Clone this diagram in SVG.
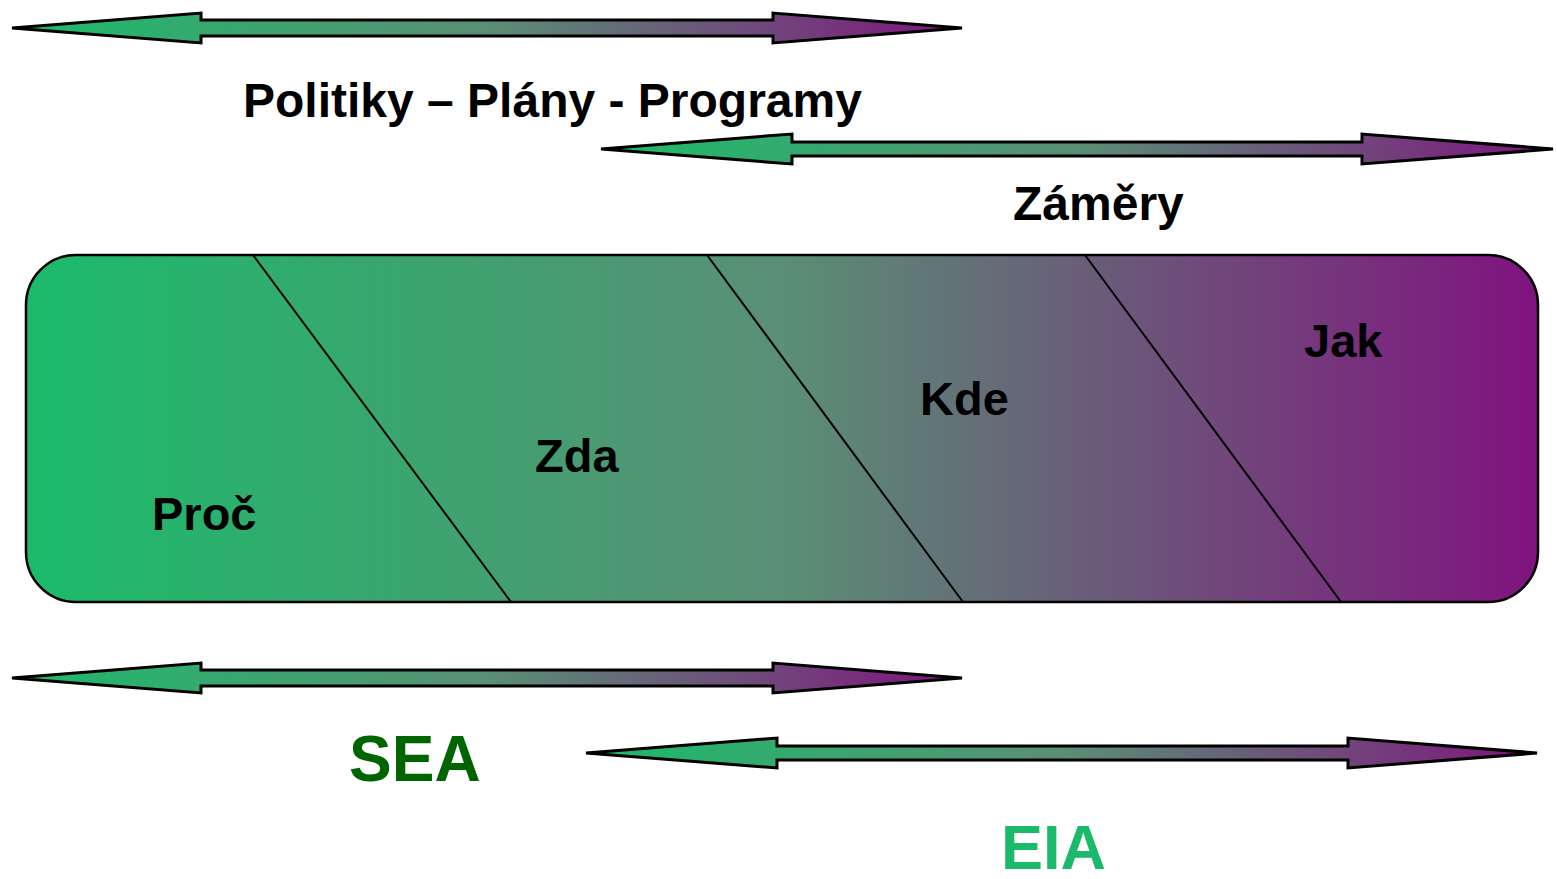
<svg xmlns="http://www.w3.org/2000/svg" width="1557" height="879" viewBox="0 0 1557 879">
<defs>
<linearGradient id="g" x1="0" y1="0" x2="1" y2="0">
<stop offset="0" stop-color="#1BBB6A"/>
<stop offset="0.5" stop-color="#5A8F75"/>
<stop offset="1" stop-color="#80137F"/>
</linearGradient>
<style>
.arr{fill:url(#g);stroke:#000;stroke-width:3;stroke-linejoin:miter}
.lbl{font-family:"Liberation Sans",Arial,sans-serif;font-weight:bold;fill:#000}
.div{stroke:#000;stroke-width:2;fill:none}
</style>
</defs>
<g id="arrow-ppp">
<path class="arr" d="M12,28 L201,13 L201,20 L773,20 L773,13 L962,28 L773,43 L773,36 L201,36 L201,43 Z"/>
</g>
<g id="label-ppp"><text class="lbl" x="243" y="117" font-size="48">Politiky – Plány - Programy</text></g>
<g id="arrow-zamery">
<path class="arr" d="M601,149 L792,134 L792,142 L1362,142 L1362,134 L1553,149 L1362,164 L1362,156 L792,156 L792,164 Z"/>
</g>
<g id="label-zamery"><text class="lbl" x="1013" y="220" font-size="48">Záměry</text></g>
<g id="box">
<rect x="26" y="255" width="1512" height="347" rx="50" ry="50" fill="url(#g)" stroke="#000" stroke-width="2.5"/>
</g>
<g id="dividers">
<line class="div" x1="253" y1="255" x2="511" y2="602"/>
<line class="div" x1="707" y1="255" x2="963" y2="602"/>
<line class="div" x1="1085" y1="255" x2="1341" y2="602"/>
</g>
<g id="node-proc"><text class="lbl" x="152" y="530" font-size="47">Proč</text></g>
<g id="node-zda"><text class="lbl" x="535" y="472" font-size="47">Zda</text></g>
<g id="node-kde"><text class="lbl" x="920" y="415" font-size="47">Kde</text></g>
<g id="node-jak"><text class="lbl" x="1304" y="357" font-size="47">Jak</text></g>
<g id="arrow-sea">
<path class="arr" d="M12,678 L201,663 L201,670 L773,670 L773,663 L962,678 L773,693 L773,686 L201,686 L201,693 Z"/>
</g>
<g id="label-sea"><text class="lbl" x="349" y="781" font-size="64" style="fill:#006400">SEA</text></g>
<g id="arrow-eia">
<path class="arr" d="M586,753 L777,738 L777,746 L1348,746 L1348,738 L1537,753 L1348,768 L1348,760 L777,760 L777,768 Z"/>
</g>
<g id="label-eia"><text class="lbl" x="1001" y="869" font-size="63" style="fill:#1ABA6A">EIA</text></g>
</svg>
